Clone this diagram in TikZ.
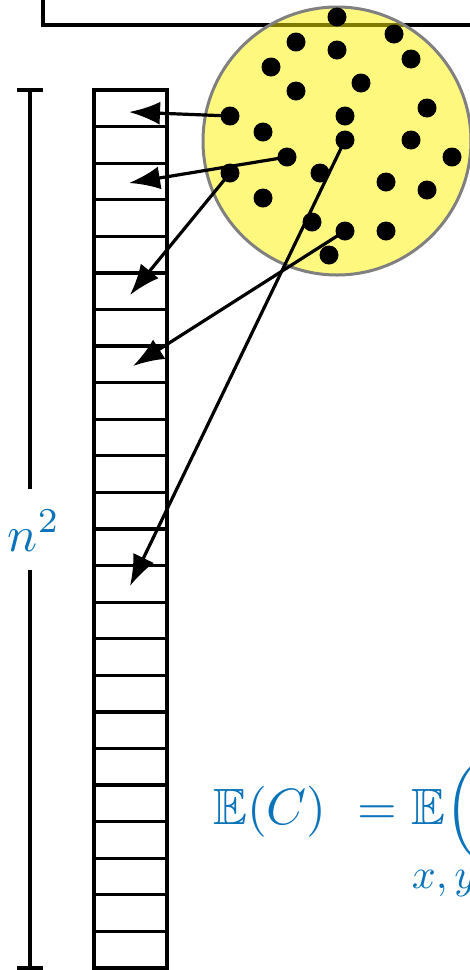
\documentclass[tikz,border=0pt]{standalone}
\usepackage{amssymb}
\usetikzlibrary{arrows.meta}
\definecolor{eqblue}{RGB}{10,115,185}
\tikzset{
  line/.style={line width=3.3pt},
  dot/.style={circle, fill=black, inner sep=0pt, minimum size=19pt},
  arr/.style={line width=3.2pt, -{Latex[length=31pt,width=23pt]}},
  lbl/.style={text=eqblue, inner sep=0pt},
}
\begin{document}
\begin{tikzpicture}[x=1pt,y=-1pt]
\useasboundingbox (0,0) rectangle (470,970);
\clip (0,0) rectangle (470,970);
% top rectangle (partially visible)
\coordinate (r1) at (43,-60);
\coordinate (r2) at (43,25);
\coordinate (r3) at (560,25);
\draw[line] (r1) -- (r2) -- (r3);
% array
\draw[line] (94,90) rectangle (167,968);
\foreach \i in {1,...,23} {
  \draw[line] (94,{90+\i*36.583}) -- (167,{90+\i*36.583});
}
% bracket with n^2
\coordinate (b1) at (30,90);
\coordinate (b2) at (30,968);
\coordinate (g1) at (30,489);
\coordinate (g2) at (30,570);
\draw[line] (17,90) -- (43,90);
\draw[line] (17,968) -- (43,968);
\draw[line] (b1) -- (g1);
\draw[line] (g2) -- (b2);
\node[lbl, scale=5, anchor=base] (n2) at (34,551) {$n^2$};
% yellow circle
\node[circle, minimum size=268pt, inner sep=0pt, fill=yellow, fill opacity=0.5, draw=gray, draw opacity=1, line width=3pt] (C) at (337,141) {};
% dots
\foreach \n/\x/\y in {1/337/17, 2/394/34, 3/296/42, 4/337/50, 5/411/59, 6/271/67, 7/361/83, 8/296/91, 9/427/108, 10/230/116, 11/345/116, 12/263/132, 13/345/140, 14/411/140, 15/452/157, 16/287/157, 17/230/173, 18/320/173, 19/386/182, 20/427/190, 21/263/198, 22/312/222, 23/345/231, 24/386/231, 25/329/255} {
  \node[dot] (d\n) at (\x,\y) {};
}
% arrow targets
\coordinate (t1) at (129,112);
\coordinate (t2) at (129,183);
\coordinate (t3) at (130,295);
\coordinate (t4) at (133,366);
\coordinate (t5) at (130,586);
\draw[arr] (d10.center) -- (t1);
\draw[arr] (d16.center) -- (t2);
\draw[arr] (d17.center) -- (t3);
\draw[arr] (d23.center) -- (t4);
\draw[arr] (d13.center) -- (t5);
% formula
\node[lbl, scale=5.1, anchor=base west] (eq) at (212,824) {$\mathbb{E}(C)\ =\mathbb{E}\Big($};
\node[lbl, scale=4.2, anchor=base west] (xy) at (411,888) {$x,y$};
\end{tikzpicture}
\end{document}
